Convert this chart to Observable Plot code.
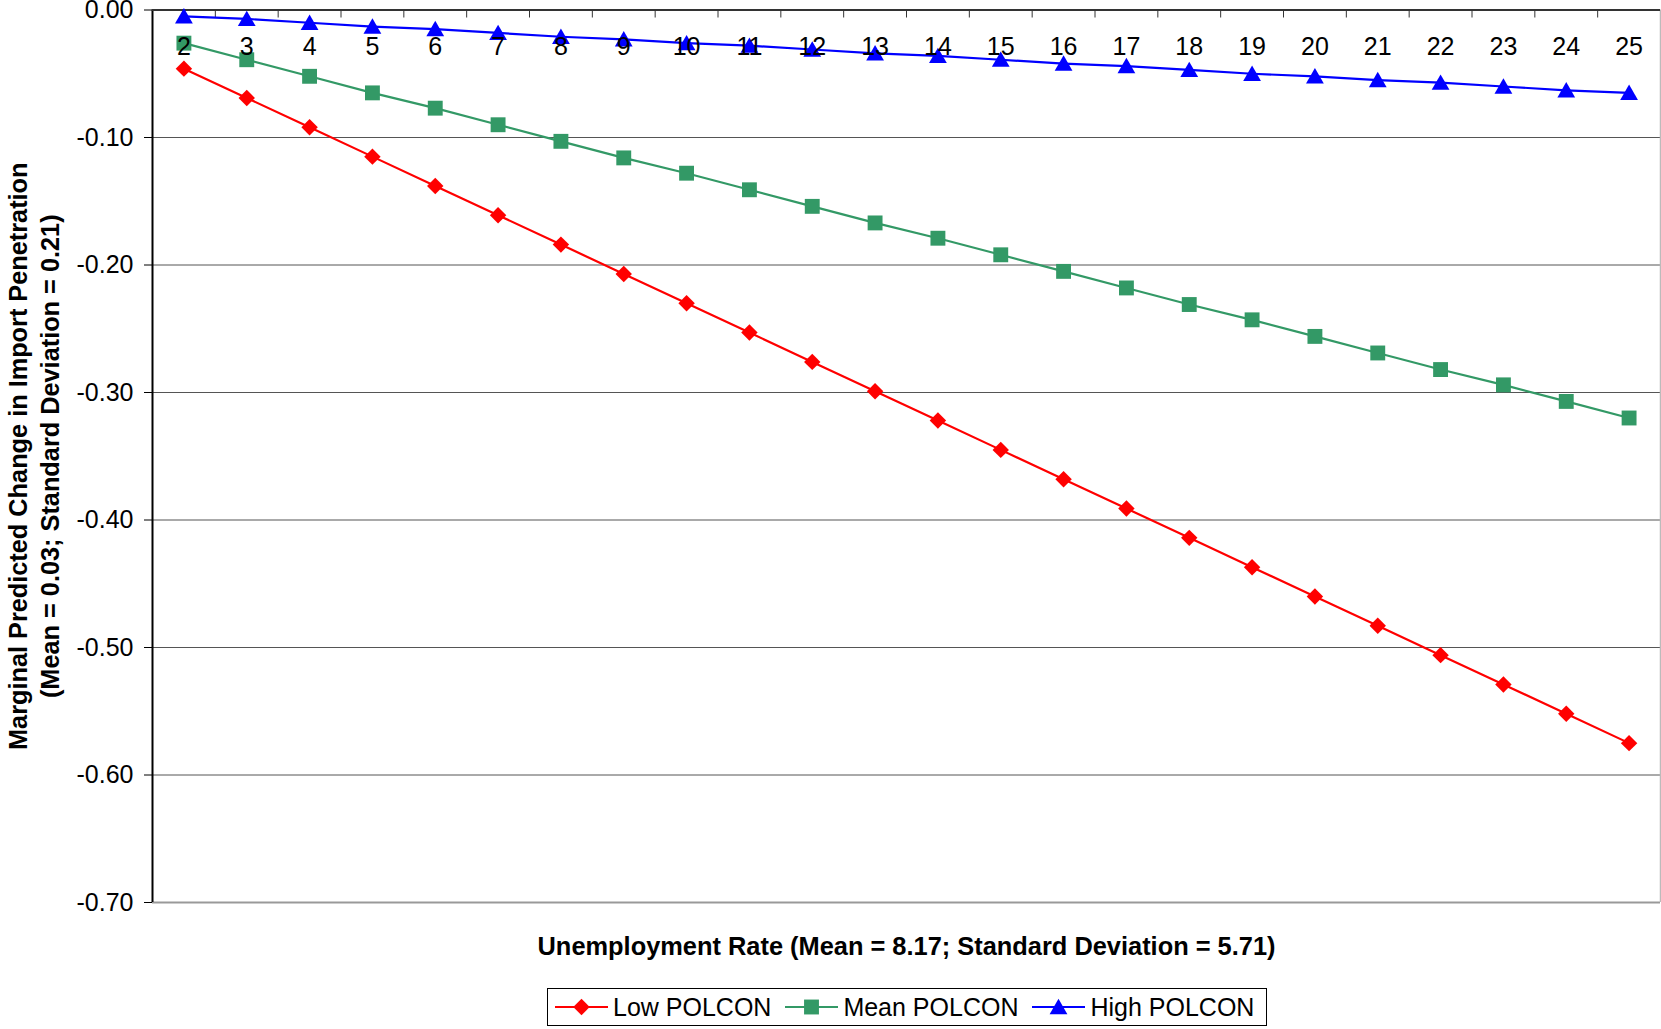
<!DOCTYPE html>
<html>
<head>
<meta charset="utf-8">
<script src="https://cdn.jsdelivr.net/npm/d3@7"></script>
<script src="https://cdn.jsdelivr.net/npm/@observablehq/plot@0.6"></script>
<style>
  body { margin: 0; background: #fff; font-family: "Liberation Sans", Arial, sans-serif; }
  #chart { position: absolute; left: 0; top: 0; }
  #legend { position: absolute; left: 547px; top: 988px; height: 38px; box-sizing: border-box;
            border: 1px solid #000; display: flex; align-items: center; padding: 0 12px 0 7px;
            font-size: 25px; color: #000; background: #fff; white-space: nowrap; }
  .item { display: flex; align-items: center; }
  .item span { margin-left: 5px; margin-right: 14px; }
  .item:last-child span { margin-right: 0; }
</style>
</head>
<body>
<div id="chart"></div>
<div id="legend"></div>
<script>
// ---- data ----
const unemployment = [2,3,4,5,6,7,8,9,10,11,12,13,14,15,16,17,18,19,20,21,22,23,24,25];
const lowPolcon  = [-0.046,-0.069,-0.092,-0.115,-0.138,-0.161,-0.184,-0.207,-0.230,-0.253,-0.276,-0.299,-0.322,-0.345,-0.368,-0.391,-0.414,-0.437,-0.460,-0.483,-0.506,-0.529,-0.552,-0.575];
const meanPolcon = [-0.026,-0.039,-0.052,-0.065,-0.077,-0.090,-0.103,-0.116,-0.128,-0.141,-0.154,-0.167,-0.179,-0.192,-0.205,-0.218,-0.231,-0.243,-0.256,-0.269,-0.282,-0.294,-0.307,-0.320];
const highPolcon = [-0.005,-0.007,-0.010,-0.013,-0.015,-0.018,-0.021,-0.023,-0.026,-0.028,-0.031,-0.034,-0.036,-0.039,-0.042,-0.044,-0.047,-0.050,-0.052,-0.055,-0.057,-0.060,-0.063,-0.065];
const seriesNames = ["Low POLCON", "Mean POLCON", "High POLCON"];
const yTicks = [0, -0.1, -0.2, -0.3, -0.4, -0.5, -0.6, -0.7];
const xTitle = "Unemployment Rate (Mean = 8.17; Standard Deviation = 5.71)";
const yTitle = "Marginal Predicted Change in Import Penetration\n(Mean = 0.03; Standard Deviation = 0.21)";

// ---- styles ----
const seriesStyle = [
  {color: "#ff0000", symbol: "diamond2", r: 7.4, dy: 0},
  {color: "#339966", symbol: "square", r: 8.4, dy: 0},
  {color: "#0000ff", symbol: "triangle", r: 6.6, dy: 2}
];
const font = "'Liberation Sans', Arial, sans-serif";

const seriesValues = [lowPolcon, meanPolcon, highPolcon];
const tables = seriesValues.map((vals, s) =>
  vals.map((v, i) => ({series: seriesNames[s], x: unemployment[i], y: v})));

const xDomain = [unemployment[0] - 0.5, unemployment[unemployment.length - 1] + 0.5];
const yDomain = [yTicks[yTicks.length - 1], yTicks[0]];
const xBoundaries = unemployment.slice(1).map(d => d - 0.5);

const seriesMarks = tables.flatMap((rows, s) => [
  Plot.line(rows, {x: "x", y: "y", stroke: seriesStyle[s].color, strokeWidth: 2.2}),
  Plot.dot(rows, {x: "x", y: "y", fill: seriesStyle[s].color, stroke: "none",
                  symbol: seriesStyle[s].symbol, r: seriesStyle[s].r, dy: seriesStyle[s].dy})
]);

const chart = Plot.plot({
  width: 1661, height: 980,
  marginLeft: 152, marginRight: 1, marginTop: 9.5, marginBottom: 78,
  style: {fontFamily: font, fontSize: "25px", color: "#000", background: "#fff", overflow: "visible"},
  x: {type: "linear", domain: xDomain, axis: null},
  y: {type: "linear", domain: yDomain, axis: null},
  marks: [
    Plot.gridY(yTicks.slice(1, -1), {stroke: "#555", strokeOpacity: 1, strokeWidth: 1}),
    Plot.ruleY([yDomain[0]], {stroke: "#999", strokeWidth: 2}),
    Plot.ruleX([xDomain[1]], {stroke: "#bbb", strokeWidth: 1.5}),
    Plot.axisY({ticks: yTicks, tickFormat: d => d.toFixed(2), tickSize: 8, tickPadding: 11,
                fontSize: 25, label: null}),
    Plot.ruleX([xDomain[0]], {stroke: "#000", strokeWidth: 2}),
    Plot.ruleY([0], {stroke: "#333", strokeWidth: 2}),
    Plot.axisX({anchor: "top", ticks: xBoundaries, tickSize: -7, tickFormat: () => "", label: null, stroke: "#333"}),
    ...seriesMarks,
    Plot.axisX({anchor: "top", ticks: unemployment, tickSize: 0, tickPadding: 0, dy: 45,
                tickFormat: d => String(d), fontSize: 25, label: null}),
    Plot.text([yTitle], {frameAnchor: "left", textAnchor: "middle", rotate: -90, dx: -120, fontSize: 25.3,
                         fontWeight: "bold", lineHeight: 1.28, text: d => d}),
    Plot.text([xTitle], {frameAnchor: "bottom", textAnchor: "middle", dy: 52, fontSize: 25.4,
                         fontWeight: "bold", text: d => d})
  ]
});
document.getElementById("chart").appendChild(chart);

// ---- legend ----
const legend = document.getElementById("legend");
const symbolPaths = {diamond2: d3.symbolDiamond2, square: d3.symbolSquare, triangle: d3.symbolTriangle};
seriesNames.forEach((name, s) => {
  const st = seriesStyle[s];
  const item = document.createElement("div");
  item.className = "item";
  const size = Math.PI * st.r * st.r;
  const path = d3.symbol(symbolPaths[st.symbol], size)();
  item.innerHTML =
    `<svg width="53" height="22"><line x1="0" x2="53" y1="11" y2="11" stroke="${st.color}" stroke-width="2"/>` +
    `<path d="${path}" transform="translate(26.5,${11 + st.dy})" fill="${st.color}"/></svg>` +
    `<span>${name}</span>`;
  legend.appendChild(item);
});
</script>
</body>
</html>
